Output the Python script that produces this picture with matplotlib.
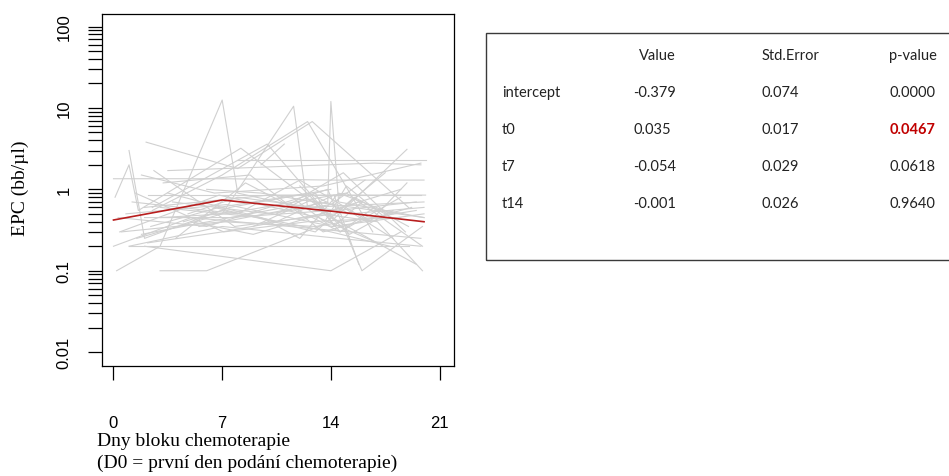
import matplotlib
matplotlib.use("Agg")
import matplotlib.pyplot as plt
from matplotlib.patches import Rectangle
from matplotlib.ticker import FixedLocator, NullFormatter

# EPC per patient (days of chemo block, EPC in cells/ul)
patient_days = [
    [0.2, 3.0, 7.0, 8.0, 14.0],
    [0.1, 1.0, 1.6, 8.2, 14.5],
    [1.0, 2.0, 7.5, 14.0],
    [2.1, 8.0, 12.8, 19.0],
    [0.0, 5.0, 19.8],
    [0.0, 7.0, 14.0, 20.0],
    [3.0, 6.0, 14.0, 18.9],
    [2.0, 14.0, 18.5],
    [1.5, 7.0, 11.6, 12.5, 20.0],
    [2.5, 9.9, 14.0, 19.5],
    [1.0, 7.0, 14.0, 19.0],
    [5.5, 13.8, 14.0, 14.5, 20.0],
    [8.0, 14.0, 20.1],
    [2.5, 7.0, 12.5, 16.7],
    [1.8, 6.5, 13.5, 19.8],
    [2.0, 10.0, 20.1],
    [0.5, 7.0, 13.0, 19.5],
    [3.0, 7.2, 15.0, 19.9],
    [2.6, 7.8, 14.3, 17.5],
    [4.0, 8.5, 14.6, 18.5],
    [0.3, 6.0, 13.8, 16.0, 19.9],
    [3.5, 10.5, 14.2, 15.8],
    [1.2, 8.0, 12.0, 16.5, 18.9],
    [2.2, 7.0, 13.4, 17.0, 19.9],
    [5.0, 9.0, 14.8, 18.0],
    [0.8, 7.3, 14.1, 20.0],
    [3.2, 8.8, 13.5, 19.2],
    [1.8, 11.0, 14.8, 18.8],
    [4.5, 7.0, 14.0, 17.8],
    [2.4, 6.8, 12.6, 15.2, 20.0],
    [6.0, 9.5, 13.0, 20.0],
    [2.0, 7.5, 14.0, 18.5],
    [0.4, 6.8, 13.2, 17.0],
    [3.0, 9.5, 12.0, 14.5, 18.0],
    [1.4, 7.1, 12.5, 18.5],
    [4.8, 8.0, 14.4, 19.5],
    [9.5, 11.0],
    [2.2, 19.8],
    [3.5, 16.8, 19.8],
    [1.0, 7.0, 14.5, 19.8],
    [10.5, 13.0, 14.2, 16.0],
    [11.5, 13.6, 15.0, 17.5],
    [9.0, 12.8, 14.6, 16.8],
    [6.5, 13.0, 15.5, 19.0],
    [12.0, 13.8, 15.2, 18.0],
    [3.8, 10.0, 14.0, 16.2],
]
patient_epc = [
    [0.10, 0.20, 12.5, 0.90, 0.50],
    [0.80, 2.00, 0.55, 3.20, 0.40],
    [3.00, 0.25, 0.60, 1.00],
    [3.80, 1.80, 6.80, 0.60],
    [0.20, 0.45, 0.25],
    [1.35, 1.35, 1.30, 1.30],
    [0.10, 0.10, 0.40, 3.10],
    [0.20, 0.10, 0.30],
    [0.25, 0.50, 10.5, 0.60, 0.70],
    [0.60, 3.60, 0.45, 0.12],
    [0.20, 0.20, 0.20, 0.20],
    [0.35, 0.70, 12.0, 0.70, 0.45],
    [2.30, 2.30, 2.30],
    [0.55, 1.50, 6.80, 0.30],
    [1.50, 0.90, 1.10, 2.10],
    [0.60, 0.85, 0.85],
    [0.30, 0.40, 0.35, 0.55],
    [0.45, 0.50, 0.90, 0.20],
    [1.70, 0.35, 0.50, 1.60],
    [0.25, 1.20, 0.30, 0.80],
    [0.45, 0.35, 1.00, 0.10, 0.35],
    [0.90, 0.40, 0.85, 0.12],
    [0.70, 0.50, 1.30, 0.40, 1.20],
    [0.22, 0.30, 0.50, 0.40, 0.10],
    [0.40, 0.28, 0.60, 0.25],
    [0.50, 0.65, 0.35, 0.50],
    [1.20, 1.50, 0.30, 0.60],
    [0.28, 0.60, 1.60, 0.30],
    [0.40, 0.55, 0.30, 0.20],
    [0.35, 0.60, 0.90, 0.50, 0.60],
    [1.00, 0.90, 0.70, 0.45],
    [0.45, 0.45, 0.55, 1.00],
    [0.30, 0.85, 0.45, 0.22],
    [0.60, 0.45, 0.25, 0.90, 0.50],
    [0.90, 0.30, 0.40, 0.45],
    [0.50, 0.80, 0.55, 0.70],
    [2.00, 3.60],
    [0.85, 0.85],
    [1.70, 2.10, 2.00],
    [0.20, 0.35, 0.25, 0.20],
    [0.50, 0.90, 0.35, 0.70],
    [0.80, 0.40, 1.10, 0.45],
    [0.35, 0.75, 0.30, 0.60],
    [0.60, 0.30, 0.80, 0.35],
    [1.10, 0.50, 0.28, 0.55],
    [0.70, 0.50, 0.65, 1.30],
]

# fitted mean profile (red line)
fit_days = [0, 7, 14, 20]
fit_epc = [0.42, 0.74, 0.54, 0.40]

x_ticks = [0, 7, 14, 21]
y_major = [0.01, 0.1, 1, 10, 100]
y_major_labels = ["0.01", "0.1", "1", "10", "100"]
y_minor = [m * 10.0 ** e for e in range(-2, 2) for m in range(2, 10)]

# coefficient table
row_names = ["intercept", "t0", "t7", "t14"]
col_names = ["Value", "Std.Error", "p-value"]
coef_value = ["-0.379", "0.035", "-0.054", "-0.001"]
coef_se = ["0.074", "0.017", "0.029", "0.026"]
coef_p = ["0.0000", "0.0467", "0.0618", "0.9640"]
p_highlight = [False, True, False, False]

W, H = 949, 477
fig = plt.figure(figsize=(W / 100, H / 100), dpi=100)
ax = fig.add_axes([102 / W, (H - 367) / H, 352 / W, (367 - 14.5) / H])

for d, v in zip(patient_days, patient_epc):
    ax.plot(d, v, color="#d0d0d0", linewidth=0.8, zorder=2)
ax.plot(fit_days, fit_epc, color="#b81e1e", linewidth=1.2, zorder=3)

ax.set_yscale("log")
ax.set_xlim(-0.74, 21.93)
ax.set_ylim(10 ** -2.17, 10 ** 2.16)

ax.xaxis.set_major_locator(FixedLocator(x_ticks))
ax.set_xticklabels([str(t) for t in x_ticks], family="Liberation Sans", fontsize=12)
ax.yaxis.set_major_locator(FixedLocator(y_major))
ax.yaxis.set_minor_locator(FixedLocator(y_minor))
ax.yaxis.set_minor_formatter(NullFormatter())
ax.set_yticklabels(y_major_labels, family="Liberation Sans", fontsize=12,
                   rotation=90, va="center")
ax.tick_params(axis="x", length=10, width=0.9, pad=25, direction="out")
ax.tick_params(axis="y", which="both", length=10, width=0.9, pad=12, direction="out")
for s in ax.spines.values():
    s.set_linewidth(0.9)

fig.text(20 / W, 1 - 188 / H, "EPC (bb/µl)", rotation=90, ha="center", va="center",
         family="Liberation Serif", fontsize=14)
fig.text(97 / W, 1 - 442 / H, "Dny bloku chemoterapie", ha="left", va="center",
         family="Liberation Serif", fontsize=14)
fig.text(97 / W, 1 - 463 / H, "(D0 = první den podání chemoterapie)", ha="left",
         va="center", family="Liberation Serif", fontsize=14)

# table box (right edge runs off the picture)
fig.add_artist(Rectangle((486 / W, 1 - 261 / H), 480 / W, 227 / H,
                         transform=fig.transFigure, fill=False,
                         edgecolor="#3a3a3a", linewidth=1.0))

tfont = dict(family="Lato", fontsize=10.5, va="center", ha="left", color="#222222")
row_y = [93, 130, 167, 204]
for x, name in zip([639, 762, 889], col_names):
    fig.text(x / W, 1 - 56 / H, name, **tfont)
for i, y in enumerate(row_y):
    fig.text(502 / W, 1 - y / H, row_names[i], **tfont)
    fig.text(633 / W, 1 - y / H, coef_value[i], **tfont)
    fig.text(762 / W, 1 - y / H, coef_se[i], **tfont)
    if p_highlight[i]:
        fig.text(890 / W, 1 - y / H, coef_p[i], family="Lato", fontsize=10.5,
                 va="center", ha="left", color="#c00000", fontweight="bold")
    else:
        fig.text(890 / W, 1 - y / H, coef_p[i], **tfont)

fig.savefig("out.png", dpi=100)
